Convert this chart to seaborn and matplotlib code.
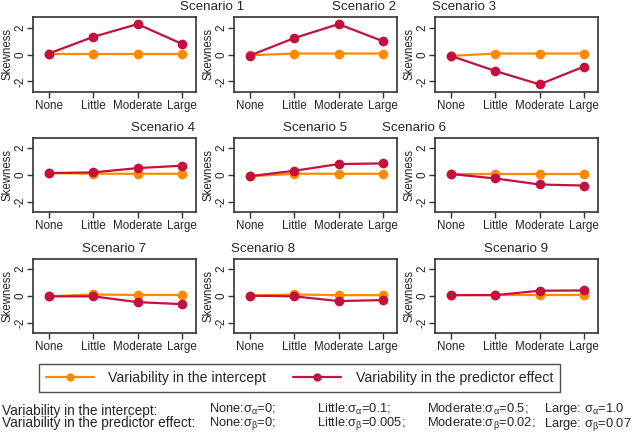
import pandas as pd
import matplotlib
matplotlib.use('Agg')
import matplotlib.pyplot as plt
from matplotlib.lines import Line2D
import seaborn as sns

# Dados
levels = ['None', 'Little', 'Moderate', 'Large']
scenarios = ['Scenario %d' % i for i in range(1, 10)]

intercept_skew = [
    [0.08, 0.08, 0.08, 0.08],
    [-0.05, 0.08, 0.08, 0.08],
    [-0.10, 0.08, 0.08, 0.08],
    [0.15, 0.10, 0.10, 0.10],
    [-0.08, 0.10, 0.10, 0.10],
    [0.08, 0.08, 0.08, 0.08],
    [-0.02, 0.12, 0.08, 0.08],
    [0.03, 0.12, 0.07, 0.07],
    [0.07, 0.07, 0.07, 0.07],
]
predictor_skew = [
    [0.08, 1.32, 2.27, 0.80],
    [-0.07, 1.23, 2.27, 1.00],
    [-0.10, -1.22, -2.22, -0.90],
    [0.15, 0.20, 0.52, 0.70],
    [-0.08, 0.32, 0.82, 0.87],
    [0.08, -0.25, -0.70, -0.78],
    [-0.02, -0.02, -0.45, -0.60],
    [0.03, -0.02, -0.37, -0.30],
    [0.07, 0.07, 0.40, 0.42],
]
series_names = ['Variability in the intercept', 'Variability in the predictor effect']
yticks = [-2, 0, 2]

# nota de rodape, uma coluna por nivel
note_cols = [
    ['Variability in the intercept:', 'Variability in the predictor effect:'],
    ['None:σ$_α$=0;', 'None:σ$_β$=0;'],
    ['Little:σ$_α$=0.1;', 'Little:σ$_β$=0.005;'],
    ['Moderate:σ$_α$=0.5;', 'Moderate:σ$_β$=0.02;'],
    ['Large: σ$_α$=1.0', 'Large: σ$_β$=0.07'],
]

rows = []
for s, name in enumerate(scenarios):
    for k, lev in enumerate(levels):
        rows.append([name, lev, series_names[0], intercept_skew[s][k]])
        rows.append([name, lev, series_names[1], predictor_skew[s][k]])
df = pd.DataFrame(rows, columns=['scenario', 'level', 'series', 'skew'])

sns.set_style('ticks')
plt.rcParams['font.family'] = ['Liberation Sans', 'DejaVu Sans']
plt.rcParams['mathtext.fontset'] = 'custom'
plt.rcParams['mathtext.rm'] = 'Liberation Sans'
plt.rcParams['mathtext.it'] = 'Liberation Sans'
plt.rcParams['mathtext.default'] = 'regular'

colors = {series_names[0]: '#FF8A00', series_names[1]: '#C4103F'}

W, H = 643, 437
fig = plt.figure(figsize=(W / 100, H / 100), dpi=100)

col_left = [33, 234, 435]
row_top = [17, 137.5, 258.5]
aw, ah = 163, 74.5
# posicao horizontal dos titulos (fracao do eixo)
title_x = [1.10, 0.80, 0.18, 0.80, 0.50, -0.13, 0.50, 0.18, 0.50]

for i, name in enumerate(scenarios):
    r, c = divmod(i, 3)
    ax = fig.add_axes([col_left[c] / W, 1 - (row_top[r] + ah) / H, aw / W, ah / H])
    sub = df[df['scenario'] == name]
    sns.lineplot(data=sub, x='level', y='skew', hue='series', palette=colors,
                 marker='o', markersize=7, markeredgewidth=0, linewidth=1.6,
                 legend=False, ax=ax)
    ax.set_xlim(-0.36, 3.32)
    ax.set_ylim(-2.75, 2.8)
    ax.set_yticks(yticks)
    ax.set_yticklabels([str(t) for t in yticks], rotation=90, va='center')
    ax.set_xlabel('')
    ax.set_ylabel('Skewness', fontsize=8.3)
    ax.yaxis.set_label_coords(-0.12, 0.5)
    ax.tick_params(axis='both', labelsize=8.4, length=4, width=1, pad=2, color='#333333')
    ax.tick_params(axis='y', pad=1)
    for sp in ax.spines.values():
        sp.set_visible(True)
        sp.set_linewidth(1.2)
        sp.set_color('#333333')
    ax.text(title_x[i], 1.13, name, transform=ax.transAxes, ha='center', va='center',
            fontsize=9.6)

handles = [Line2D([0], [0], color=colors[n], marker='o', markersize=6,
                  markeredgewidth=0, linewidth=1.6) for n in series_names]
leg = fig.legend(handles, series_names, loc='center', bbox_to_anchor=(299.5 / W, 1 - 378 / H),
                 ncol=2, fontsize=10.2, frameon=True, fancybox=False, handlelength=3.4,
                 handletextpad=1.0, columnspacing=1.9, borderpad=0.5)
leg.get_frame().set_edgecolor('#222222')
leg.get_frame().set_linewidth(1.0)

col_x = [2, 209, 317, 427, 544]
col_size = [9.8, 9.3, 9.3, 9.3, 9.3]
for k, lines in enumerate(note_cols):
    fig.text(col_x[k] / W, 1 - 417 / H, '\n'.join(lines), ha='left', va='center',
             fontsize=col_size[k], linespacing=0.85)

plt.savefig('out.png', dpi=100)
